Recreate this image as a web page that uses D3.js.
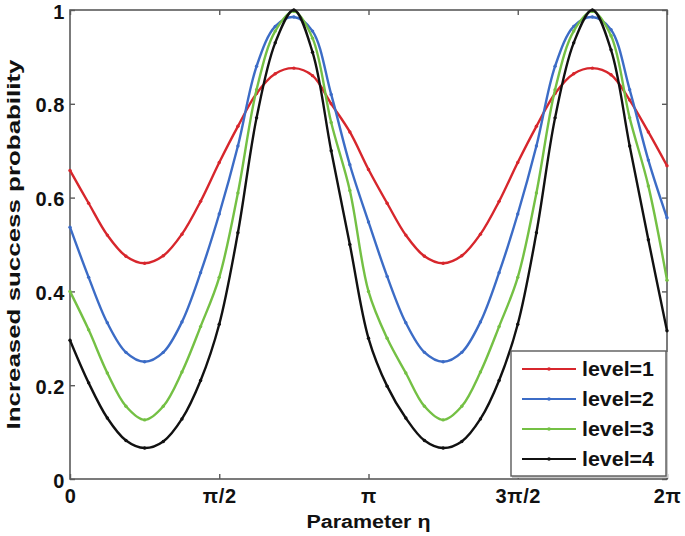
<!DOCTYPE html>
<html>
<head>
<meta charset="utf-8">
<script src="https://cdn.jsdelivr.net/npm/d3@7/dist/d3.min.js"></script>
<style>
  html, body { margin: 0; padding: 0; background: #fff; }
  svg { display: block; font-family: "Liberation Sans", Arial, sans-serif; }
</style>
</head>
<body>
<svg id="chart" width="685" height="536"></svg>
<script>
const seriesNames = ["level=1", "level=2", "level=3", "level=4"];
const seriesColors = ["#d7262c", "#3c6cc6", "#74c044", "#111111"];

const level1 = [0.658,0.588,0.520,0.475,0.460,0.476,0.522,0.592,0.675,0.752,0.822,0.864,0.876,0.860,0.800,0.740,0.660,
                0.588,0.520,0.475,0.460,0.476,0.522,0.592,0.675,0.752,0.822,0.864,0.876,0.862,0.808,0.740,0.668];
const level2 = [0.537,0.430,0.333,0.270,0.250,0.270,0.335,0.440,0.565,0.710,0.880,0.965,0.985,0.955,0.820,0.670,0.548,
                0.432,0.333,0.270,0.250,0.270,0.335,0.440,0.565,0.710,0.880,0.965,0.985,0.958,0.830,0.680,0.557];
const level3 = [0.400,0.318,0.226,0.155,0.126,0.155,0.228,0.325,0.430,0.610,0.830,0.955,0.997,0.940,0.760,0.615,0.400,
                0.300,0.226,0.155,0.126,0.155,0.228,0.325,0.430,0.610,0.830,0.955,0.997,0.945,0.770,0.625,0.424];
const level4 = [0.296,0.205,0.130,0.082,0.066,0.080,0.128,0.210,0.330,0.525,0.770,0.930,1.000,0.910,0.700,0.500,0.300,
                0.198,0.130,0.082,0.066,0.080,0.128,0.210,0.330,0.525,0.770,0.930,1.000,0.915,0.710,0.510,0.316];

const xTickValues = [0, Math.PI / 2, Math.PI, 3 * Math.PI / 2, 2 * Math.PI];
const xTickLabels = ["0", "π/2", "π", "3π/2", "2π"];
const yTickValues = [0, 0.2, 0.4, 0.6, 0.8, 1];
const yTickLabels = ["0", "0.2", "0.4", "0.6", "0.8", "1"];
const xLabel = "Parameter η";
const yLabel = "Increased success probability";

// sample positions (pi/16 grid)
const eta = d3.range(level1.length).map(i => i * Math.PI / 16);
const allSeries = [level1, level2, level3, level4];

// ---- layout ----
const svg = d3.select("#chart");
const L = 70, T = 10, R = 667, B = 479;
const x = d3.scaleLinear().domain([0, 2 * Math.PI]).range([L, R]);
const y = d3.scaleLinear().domain([0, 1]).range([B, T]);
const axisColor = "#5a5a5a";

// frame
svg.append("rect").attr("x", L).attr("y", T).attr("width", R - L).attr("height", B - T)
  .attr("fill", "none").attr("stroke", axisColor).attr("stroke-width", 1.6);

// axes (ticks inward, all four sides)
const tickLen = 5;
const gx = svg.append("g").attr("transform", `translate(0,${B})`)
  .call(d3.axisBottom(x).tickValues(xTickValues).tickFormat((d, i) => xTickLabels[i])
        .tickSizeInner(-tickLen).tickSizeOuter(0).tickPadding(0));
const gxt = svg.append("g").attr("transform", `translate(0,${T})`)
  .call(d3.axisTop(x).tickValues(xTickValues).tickFormat("").tickSizeInner(-tickLen).tickSizeOuter(0));
const gy = svg.append("g").attr("transform", `translate(${L},0)`)
  .call(d3.axisLeft(y).tickValues(yTickValues).tickFormat((d, i) => yTickLabels[i])
        .tickSizeInner(-tickLen).tickSizeOuter(0).tickPadding(5));
const gyr = svg.append("g").attr("transform", `translate(${R},0)`)
  .call(d3.axisRight(y).tickValues(yTickValues).tickFormat("").tickSizeInner(-tickLen).tickSizeOuter(0));

[gx, gxt, gy, gyr].forEach(g => {
  g.select(".domain").remove();
  g.selectAll(".tick line").attr("stroke", axisColor).attr("stroke-width", 1.4);
  g.selectAll(".tick text").attr("fill", "#111").attr("font-size", 20).attr("font-weight", "bold")
    .attr("font-family", "'Liberation Sans', Arial, sans-serif").attr("letter-spacing", 0.6);
});
gx.selectAll(".tick text").attr("y", 24).attr("dy", null);
gy.selectAll(".tick text").attr("dy", null).attr("y", 8);

// curves
const line = d3.line().x((d, i) => x(eta[i])).y(d => y(d)).curve(d3.curveCatmullRom.alpha(0.5));
const plot = svg.append("g");
allSeries.forEach((s, k) => {
  plot.append("path").datum(s).attr("d", line).attr("fill", "none")
    .attr("stroke", seriesColors[k]).attr("stroke-width", 2.4).attr("stroke-linejoin", "round");
  plot.selectAll(null).data(s).enter().append("circle")
    .attr("cx", (d, i) => x(eta[i])).attr("cy", d => y(d)).attr("r", 1.7)
    .attr("fill", seriesColors[k]);
});

// axis labels
svg.append("text").attr("x", (L + R) / 2).attr("y", 528).attr("text-anchor", "middle")
  .attr("font-size", 18).attr("font-weight", "bold").attr("fill", "#111")
  .attr("textLength", 124).attr("lengthAdjust", "spacingAndGlyphs").text(xLabel);
svg.append("text").attr("transform", `translate(20,${(T + B) / 2}) rotate(-90)`)
  .attr("text-anchor", "middle").attr("font-size", 18).attr("font-weight", "bold").attr("fill", "#111")
  .attr("textLength", 370).attr("lengthAdjust", "spacingAndGlyphs").text(yLabel);

// legend
const lg = svg.append("g");
lg.append("rect").attr("x", 512).attr("y", 352).attr("width", 156).attr("height", 126)
  .attr("fill", "#c8c8c8");
lg.append("rect").attr("x", 511).attr("y", 351).attr("width", 155).attr("height", 125)
  .attr("fill", "#fff").attr("stroke", axisColor).attr("stroke-width", 1.4);
const rowY = [369, 399, 429, 459];
seriesNames.forEach((name, k) => {
  lg.append("line").attr("x1", 522).attr("x2", 576).attr("y1", rowY[k]).attr("y2", rowY[k])
    .attr("stroke", seriesColors[k]).attr("stroke-width", 2.2);
  lg.append("circle").attr("cx", 549).attr("cy", rowY[k]).attr("r", 1.8).attr("fill", seriesColors[k]);
  lg.append("text").attr("x", 582).attr("y", rowY[k] + 7).attr("font-size", 20).attr("font-weight", "bold")
    .attr("fill", "#111").attr("textLength", 72).attr("lengthAdjust", "spacingAndGlyphs").text(name);
});
</script>
</body>
</html>
